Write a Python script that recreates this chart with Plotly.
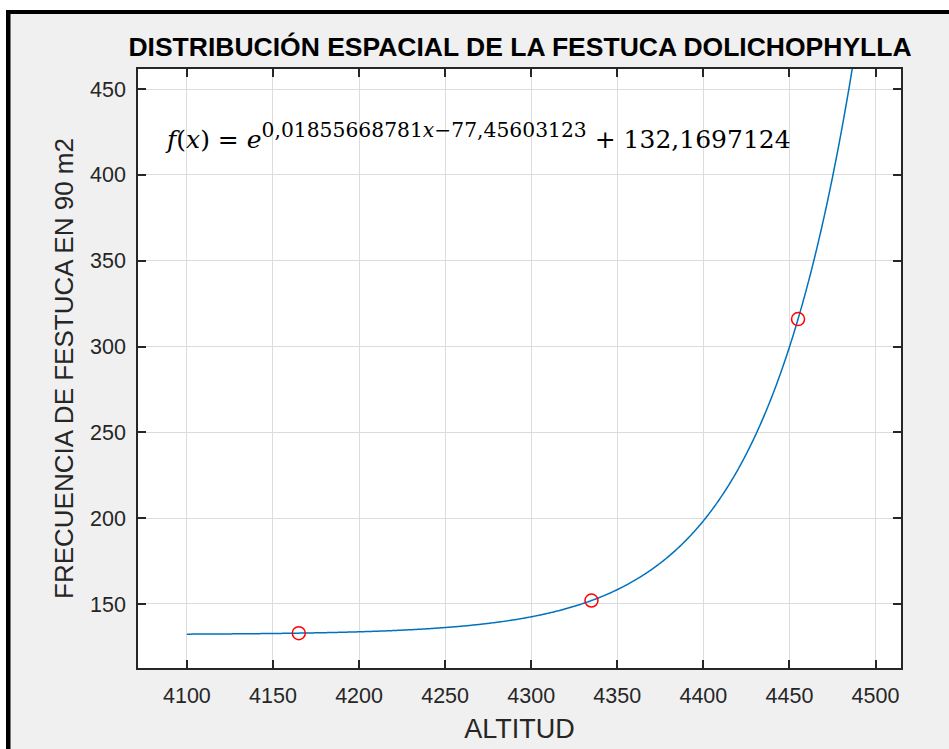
import numpy as np
import plotly.graph_objects as go

altitud = [4165, 4335, 4455]
frecuencia = [133, 152, 316]

# Fit equation shown in chart: f(x) = exp(a*x + b) + c
a_coef = 0.01855668781
b_coef = -77.45603123
c_coef = 132.1697124
x_fit = np.linspace(4100, 4500, 801)
y_fit = np.exp(a_coef * x_fit + b_coef) + c_coef

x_ticks = [4100, 4150, 4200, 4250, 4300, 4350, 4400, 4450, 4500]
y_ticks = [150, 200, 250, 300, 350, 400, 450]

W, H = 949, 749
L, R, T, B = 138, 901, 69, 668

def px(x):
    return (x - L) / (R - L)

def py(y):
    return (B - y) / (B - T)

fig = go.Figure()
fig.add_trace(go.Scatter(x=x_fit, y=y_fit, mode="lines",
                         line=dict(color="#0072BD", width=1.5, simplify=False), hoverinfo="skip"))
fig.add_trace(go.Scatter(x=altitud, y=frecuencia, mode="markers",
                         marker=dict(symbol="circle-open", size=13, color="#FF0000",
                                     line=dict(color="#FF0000", width=1.5))))

axis_common = dict(showline=True, linecolor="#262626", linewidth=1.5, mirror="ticks",
                   ticks="inside", ticklen=8, tickwidth=1.5, tickcolor="#262626",
                   showgrid=True, gridcolor="#dcdcdc", gridwidth=1, zeroline=False,
                   automargin=False,
                   tickfont=dict(family="Liberation Sans, Arial", size=21.5, color="#262626"))

fig.update_xaxes(range=[4071.6, 4514.8], tickvals=x_ticks, ticklabelstandoff=7,
                 title=dict(text="ALTITUD", font=dict(family="Liberation Sans, Arial", size=27, color="#262626"), standoff=13),
                 **axis_common)
fig.update_yaxes(range=[112.7, 461.7], tickvals=y_ticks, ticklabelstandoff=6,
                 title=dict(text="FRECUENCIA DE FESTUCA EN 90 m2", font=dict(family="Liberation Sans, Arial", size=26, color="#262626"), standoff=9),
                 **axis_common)

shapes = [
    # white box behind equation (above gridlines)
    dict(type="rect", xref="paper", yref="paper", x0=px(140), x1=px(813), y0=py(174), y1=py(102),
         fillcolor="white", line=dict(width=0), layer="between"),
    # white page edges
    dict(type="rect", xref="paper", yref="paper", x0=px(0), x1=px(W), y0=py(10), y1=py(0),
         fillcolor="white", line=dict(width=0), layer="below"),
    dict(type="rect", xref="paper", yref="paper", x0=px(0), x1=px(6), y0=py(H), y1=py(0),
         fillcolor="white", line=dict(width=0), layer="below"),
    # black frame lines
    dict(type="rect", xref="paper", yref="paper", x0=px(6), x1=px(W), y0=py(14), y1=py(10),
         fillcolor="black", line=dict(width=0), layer="below"),
    dict(type="rect", xref="paper", yref="paper", x0=px(6), x1=px(10.5), y0=py(H), y1=py(10),
         fillcolor="black", line=dict(width=0), layer="below"),
]

eq_text = ("<i>f</i>(<i>x</i>) = <i>e</i><sup><span style='font-size:20.3px'>0,01855668781<i>x</i>−77,45603123</span></sup>"
           " + 132,1697124")

fig.update_layout(
    width=W, height=H,
    margin=dict(l=L, r=W - R, t=T, b=H - B, autoexpand=False),
    paper_bgcolor="#f0f0f0", plot_bgcolor="white",
    showlegend=False,
    title=dict(text="<b>DISTRIBUCIÓN ESPACIAL DE LA FESTUCA DOLICHOPHYLLA</b>",
               font=dict(family="Liberation Sans, Arial", size=26.5, color="black"),
               x=px(520), xref="paper", xanchor="center",
               y=1 - 47 / H, yref="container", yanchor="middle"),
    shapes=shapes,
    annotations=[dict(text=eq_text, xref="paper", yref="paper", x=px(163), y=py(136),
                      xanchor="left", yanchor="middle", showarrow=False,
                      font=dict(family="DejaVu Serif", size=25, color="black"))],
)

fig.write_html("out.html")
